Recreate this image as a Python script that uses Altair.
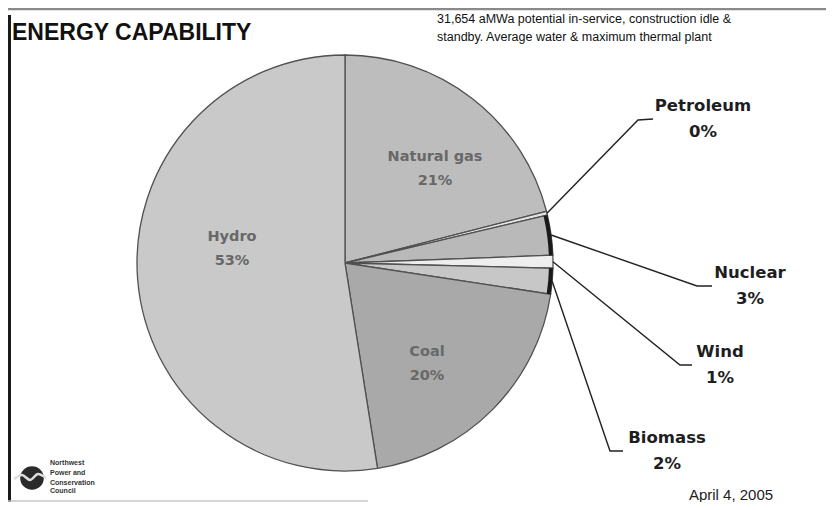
import math
import altair as alt
import pandas as pd

# ---------------- data ----------------
categories = ["Natural gas", "Petroleum", "Nuclear", "Wind", "Biomass", "Coal", "Hydro"]
values = [21.0, 0.3, 3.1, 1.0, 2.0, 20.1, 52.5]
pct_labels = ["21%", "0%", "3%", "1%", "2%", "20%", "53%"]
fills = ["#bdbdbd", "#e2e2e2", "#b9b9b9", "#eeeeee", "#c7c7c7", "#a9a9a9", "#c9c9c9"]
edge_dark = ["Nuclear", "Biomass"]

title_text = "ENERGY CAPABILITY"
subtitle_lines = ["31,654 aMWa potential in-service, construction idle &",
                  "standby.  Average water & maximum thermal plant"]
date_text = "April 4, 2005"
logo_lines = ["Northwest", "Power and", "Conservation", "Council"]

# ---------------- layout (canvas pixels) ----------------
W, H = 818, 494
CX, CY, R = 337, 255, 208

inner_names = ["Natural gas", "Hydro", "Coal"]
inner_x = [427, 224, 419]
inner_y = [149, 229, 344]

outer_names = ["Petroleum", "Nuclear", "Wind", "Biomass"]
outer_x = [695, 742, 712, 659]
outer_y = [98, 265, 344, 430]
elbow_x = [630, 689, 672, 602]
elbow_y = [112, 278, 357, 443]
end_x = [645, 704, 684, 615]
end_y = [111, 278, 357, 443]

XS = alt.Scale(domain=[0, W], nice=False, zero=False)
YS = alt.Scale(domain=[0, H], nice=False, zero=False, reverse=True)

# ---------------- pie ----------------
pie_df = pd.DataFrame({"category": categories, "value": values, "order": list(range(len(categories)))})

pie = alt.Chart(pie_df).mark_arc(outerRadius=R, stroke="#505050", strokeWidth=1.3).encode(
    theta=alt.Theta("value:Q", stack=True),
    order=alt.Order("order:Q"),
    color=alt.Color("category:N", scale=alt.Scale(domain=categories, range=fills), legend=None),
    x=alt.value(CX), y=alt.value(CY),
)

pie_edge = alt.Chart(pie_df).mark_arc(innerRadius=R - 4, outerRadius=R, strokeWidth=0).encode(
    theta=alt.Theta("value:Q", stack=True),
    order=alt.Order("order:Q"),
    fill=alt.condition(alt.FieldOneOfPredicate(field="category", oneOf=edge_dark),
                       alt.value("#1a1a1a"), alt.value("transparent")),
    x=alt.value(CX), y=alt.value(CY),
)

# ---------------- leader lines ----------------
total = sum(values)
cum = 0.0
mid_angle = {}
for c, v in zip(categories, values):
    mid_angle[c] = (cum + v / 2) / total * 2 * math.pi
    cum += v

rows = []
for i, n in enumerate(outer_names):
    a = mid_angle[n]
    sx = CX + R * math.sin(a)
    sy = CY - R * math.cos(a)
    rows += [
        {"name": n, "k": 0, "px": sx, "py": sy},
        {"name": n, "k": 1, "px": elbow_x[i], "py": elbow_y[i]},
        {"name": n, "k": 2, "px": end_x[i], "py": end_y[i]},
    ]
lead_df = pd.DataFrame(rows)
leaders = alt.Chart(lead_df).mark_line(color="#222222", strokeWidth=1.4).encode(
    x=alt.X("px:Q", scale=XS, axis=None),
    y=alt.Y("py:Q", scale=YS, axis=None),
    detail="name:N",
    order="k:Q",
)

# ---------------- labels ----------------
pct_map = dict(zip(categories, pct_labels))
in_df = pd.DataFrame({"name": inner_names, "pct": [pct_map[n] for n in inner_names],
                      "px": inner_x, "py": inner_y, "py2": [v + 24 for v in inner_y]})
out_df = pd.DataFrame({"name": outer_names, "pct": [pct_map[n] for n in outer_names],
                       "px": outer_x, "py": outer_y, "py2": [v + 26 for v in outer_y]})


def txt(df, field, yfield, size, color, weight="bold", font="DejaVu Sans", align="center"):
    return alt.Chart(df).mark_text(fontSize=size, fontWeight=weight, color=color, font=font,
                                   align=align, baseline="middle").encode(
        x=alt.X("px:Q", scale=XS, axis=None),
        y=alt.Y(f"{yfield}:Q", scale=YS, axis=None),
        text=f"{field}:N",
    )


in_names = txt(in_df, "name", "py", 14.5, "#686868")
in_pcts = txt(in_df, "pct", "py2", 14.5, "#686868")
out_names = txt(out_df, "name", "py", 16.5, "#1e1e1e")
out_pcts = txt(out_df, "pct", "py2", 16.5, "#1e1e1e")

# ---------------- titles & notes ----------------
title_df = pd.DataFrame({"t": [title_text], "px": [4], "py": [25]})
title = alt.Chart(title_df).mark_text(fontSize=23, fontWeight="bold", font="Liberation Sans",
                                      align="left", baseline="middle", color="#111111").encode(
    x=alt.X("px:Q", scale=XS, axis=None), y=alt.Y("py:Q", scale=YS, axis=None), text="t:N")

sub_df = pd.DataFrame({"t": subtitle_lines, "px": [429, 429], "py": [11, 29]})
subtitle = alt.Chart(sub_df).mark_text(fontSize=12.5, font="Liberation Sans", align="left",
                                       baseline="middle", color="#111111").encode(
    x=alt.X("px:Q", scale=XS, axis=None), y=alt.Y("py:Q", scale=YS, axis=None), text="t:N")

date_df = pd.DataFrame({"t": [date_text], "px": [723], "py": [487]})
date = alt.Chart(date_df).mark_text(fontSize=15, font="Liberation Sans", align="center",
                                    baseline="middle", color="#222222").encode(
    x=alt.X("px:Q", scale=XS, axis=None), y=alt.Y("py:Q", scale=YS, axis=None), text="t:N")

logo_df = pd.DataFrame({"t": logo_lines, "px": [42, 42, 42, 42], "py": [455, 465, 475, 483]})
logo_text = alt.Chart(logo_df).mark_text(fontSize=7, font="Liberation Sans", align="left",
                                         baseline="middle", color="#333333", fontWeight="bold").encode(
    x=alt.X("px:Q", scale=XS, axis=None), y=alt.Y("py:Q", scale=YS, axis=None), text="t:N")

logo_dot = alt.Chart(pd.DataFrame({"px": [24], "py": [470]})).mark_circle(color="#2a2a2a", opacity=1).encode(
    x=alt.X("px:Q", scale=XS, axis=None), y=alt.Y("py:Q", scale=YS, axis=None), size=alt.value(560))

wave_df = pd.DataFrame({"px": [6, 14, 22, 30, 38], "py": [471, 467, 472, 466, 470]})
logo_wave = alt.Chart(wave_df).mark_line(color="#dddddd", strokeWidth=2.5, interpolate="monotone").encode(
    x=alt.X("px:Q", scale=XS, axis=None), y=alt.Y("py:Q", scale=YS, axis=None))

# ---------------- frame ----------------
frame_df = pd.DataFrame({
    "seg": ["top", "top", "left", "left", "bottom", "bottom"],
    "k": [0, 1, 0, 1, 0, 1],
    "px": [0, W, 1.5, 1.5, 0, 360],
    "py": [1, 1, 7, H, H - 1, H - 1],
})
frame_top = alt.Chart(frame_df[frame_df.seg == "top"]).mark_line(color="#8a8a8a", strokeWidth=2.5).encode(
    x=alt.X("px:Q", scale=XS, axis=None), y=alt.Y("py:Q", scale=YS, axis=None), order="k:Q")
frame_left = alt.Chart(frame_df[frame_df.seg == "left"]).mark_line(color="#1a1a1a", strokeWidth=3).encode(
    x=alt.X("px:Q", scale=XS, axis=None), y=alt.Y("py:Q", scale=YS, axis=None), order="k:Q")
frame_bottom = alt.Chart(frame_df[frame_df.seg == "bottom"]).mark_line(color="#c8c8c8", strokeWidth=1.5).encode(
    x=alt.X("px:Q", scale=XS, axis=None), y=alt.Y("py:Q", scale=YS, axis=None), order="k:Q")

chart = alt.layer(
    frame_top, frame_left, frame_bottom,
    pie, pie_edge, leaders,
    in_names, in_pcts, out_names, out_pcts,
    title, subtitle, date, logo_dot, logo_wave, logo_text,
).properties(
    width=W, height=H, padding=0, autosize=alt.AutoSizeParams(type="none"), background="white"
).configure_view(stroke=None)

chart.save("out.html", embed_options={"renderer": "svg", "actions": False})
